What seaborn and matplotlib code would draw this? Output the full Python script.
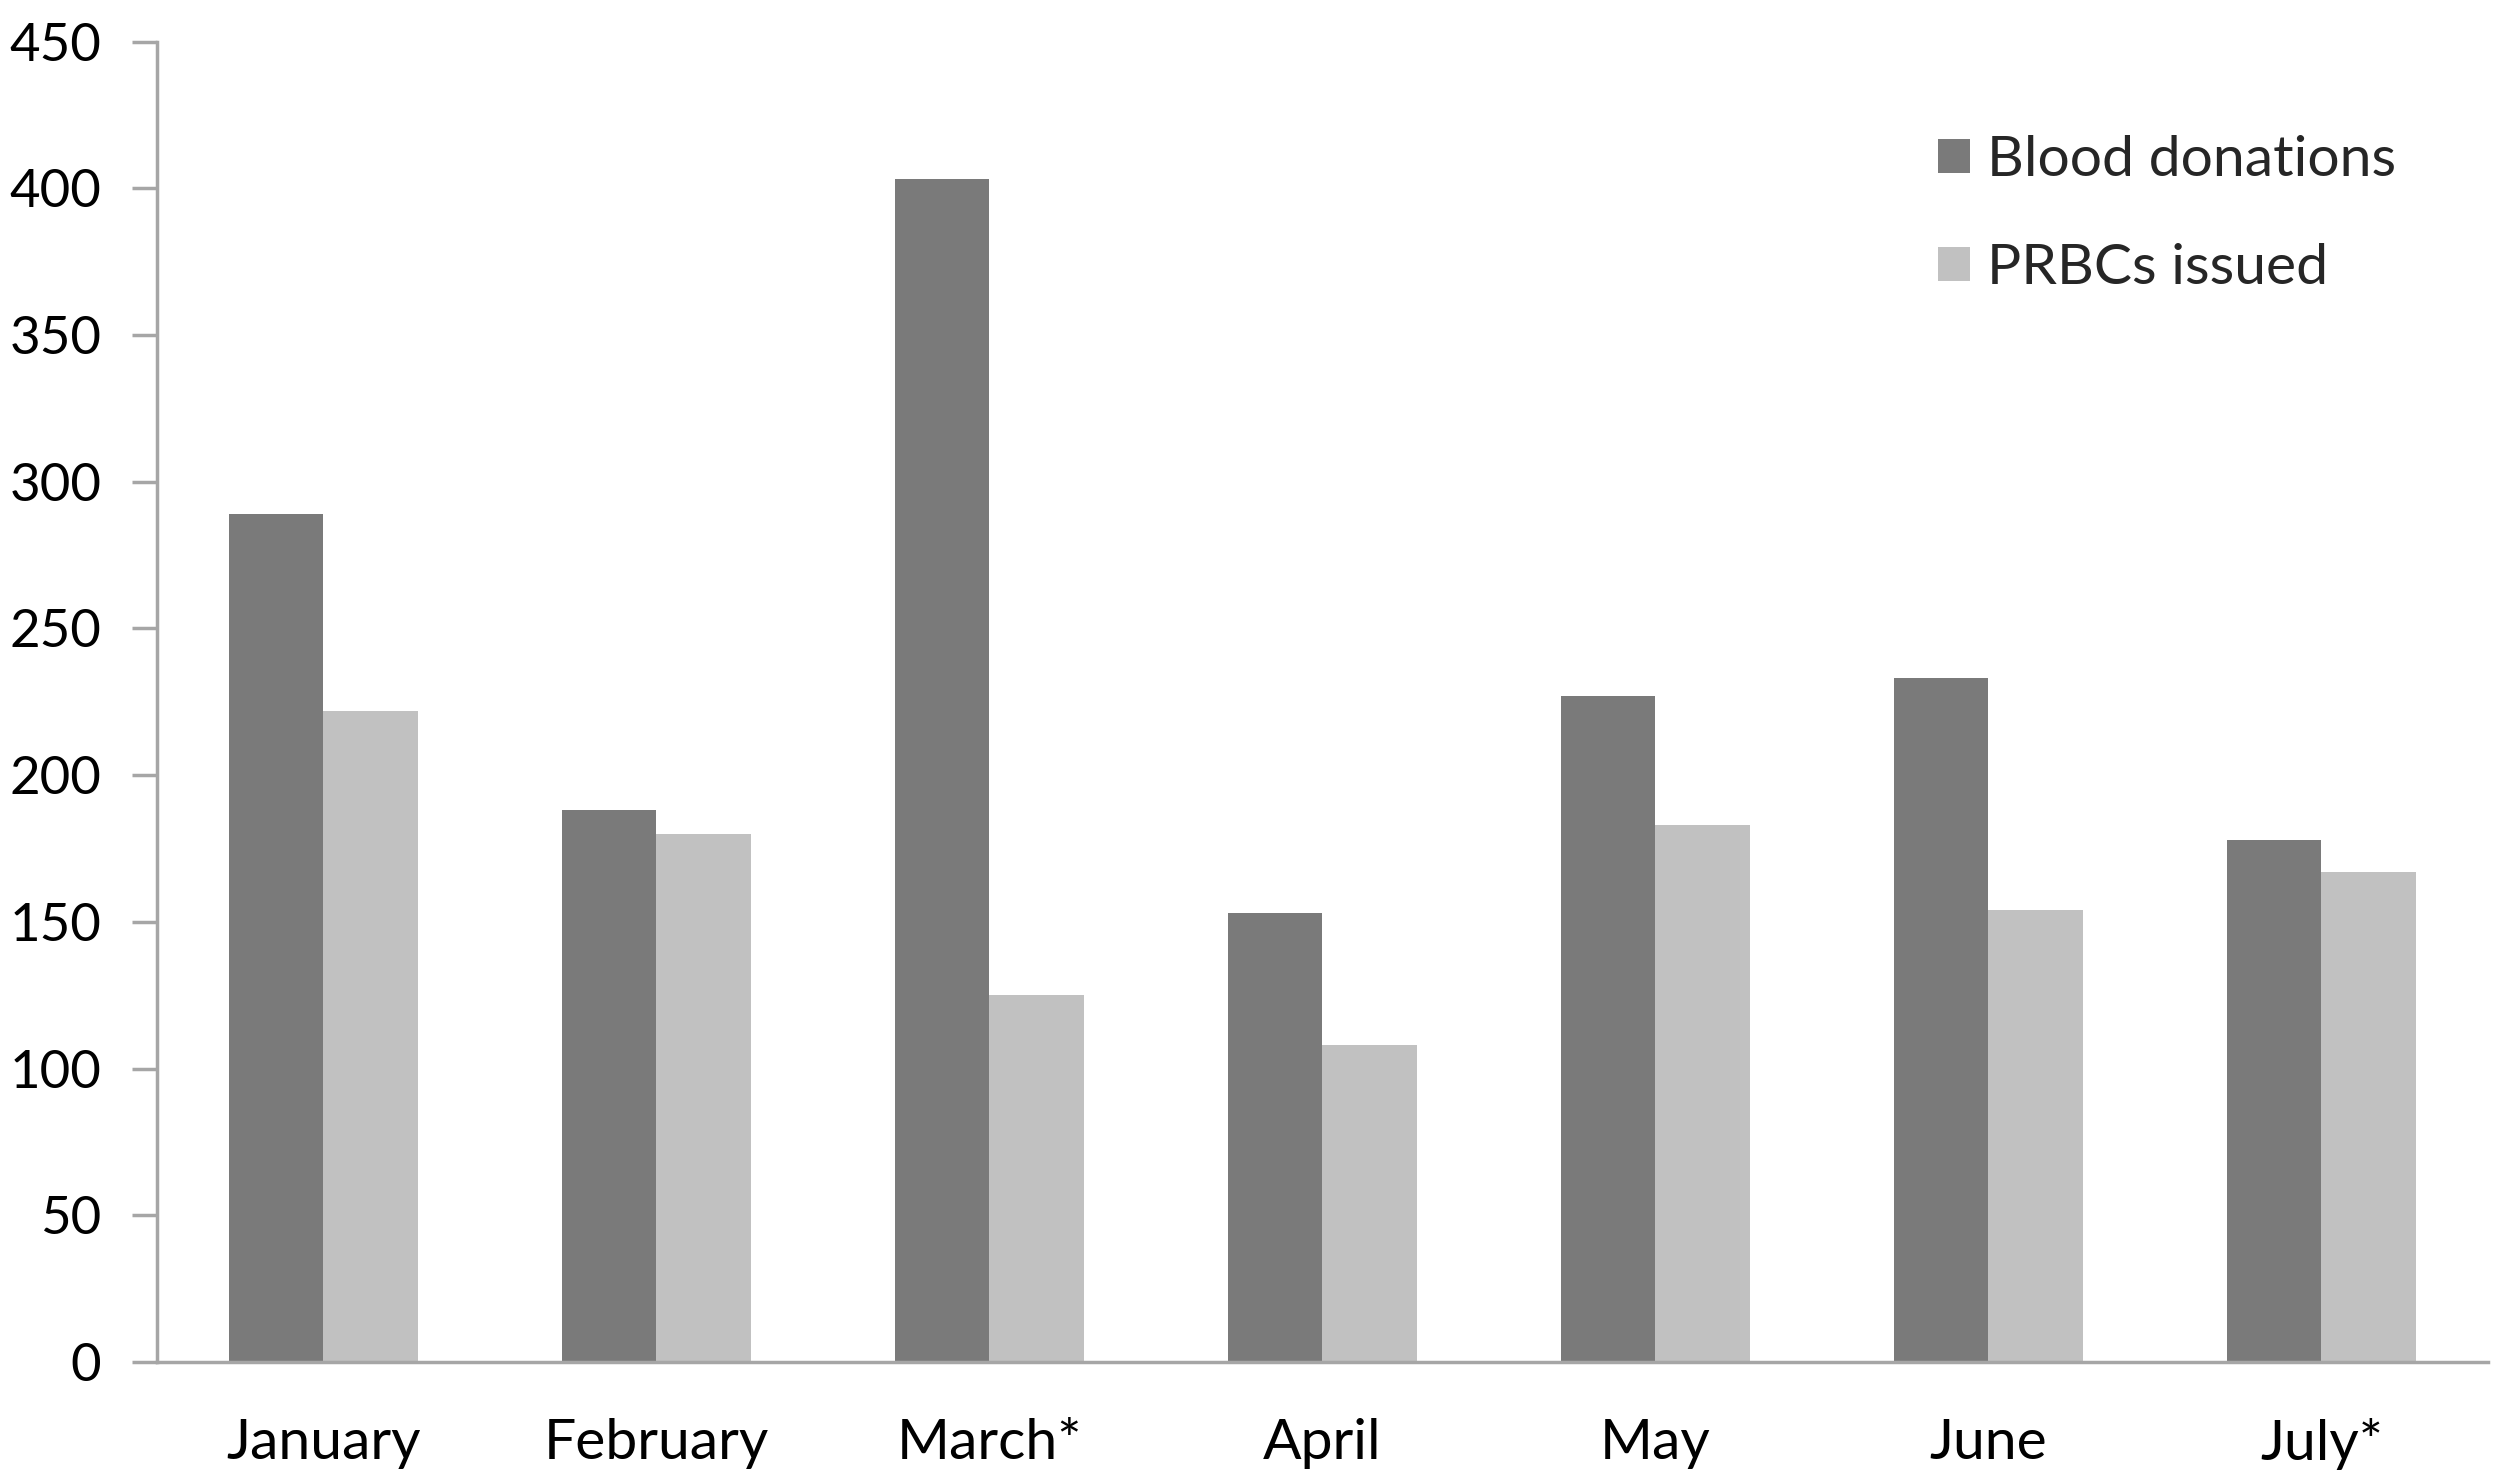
import matplotlib
matplotlib.use("Agg")
import matplotlib.pyplot as plt
import seaborn as sns
import pandas as pd

months = ["January", "February", "March*", "April", "May", "June", "July*"]
blood_donations = [289, 188, 403, 153, 227, 233, 178]
prbcs_issued = [222, 180, 125, 108, 183, 154, 167]
series_names = ["Blood donations", "PRBCs issued"]
yticks = [0, 50, 100, 150, 200, 250, 300, 350, 400, 450]

df = pd.DataFrame({
    "month": months * 2,
    "value": blood_donations + prbcs_issued,
    "series": [series_names[0]] * len(months) + [series_names[1]] * len(months),
})

sns.set_theme(style="white")
plt.rcParams["font.family"] = ["Lato", "DejaVu Sans"]

fig = plt.figure(figsize=(25.08, 14.83), dpi=100)
ax = fig.add_axes([0.0626, 0.0816, 0.9294, 0.8904])

sns.barplot(data=df, x="month", y="value", hue="series", order=months,
            hue_order=series_names, palette=["#7a7a7a", "#c1c1c1"],
            width=0.57, saturation=1, linewidth=0, ax=ax)

ax.set_ylim(0, 450)
ax.set_xlim(-0.5, len(months) - 0.5)
ax.set_yticks(yticks)
ax.set_xlabel("")
ax.set_ylabel("")
for s in ["top", "right"]:
    ax.spines[s].set_visible(False)
for s in ["left", "bottom"]:
    ax.spines[s].set_color("#a6a6a6")
    ax.spines[s].set_linewidth(2.5)
ax.tick_params(axis="y", which="both", left=True, length=18, width=2.5,
               color="#a6a6a6", labelsize=38, pad=22, labelcolor="black")
ax.tick_params(axis="x", which="both", bottom=False, labelsize=41, pad=34,
               labelcolor="black")

handles, labels = ax.get_legend_handles_labels()
ax.legend(handles, labels, loc="center left", bbox_to_anchor=(0.764, 0.869),
          frameon=False, fontsize=41, handlelength=0.56, handleheight=0.56,
          handletextpad=0.3, labelspacing=1.0, borderpad=0, borderaxespad=0)

fig.savefig("out.png", dpi=100, facecolor="white")
